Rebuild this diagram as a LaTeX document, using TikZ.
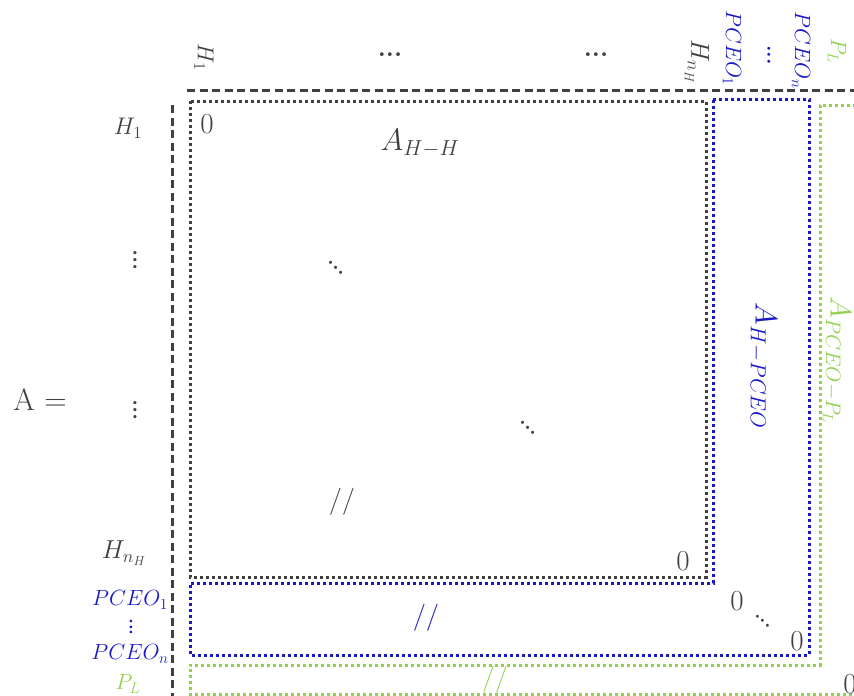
\documentclass[tikz,border=0pt]{standalone}
\usepackage{fix-cm}
\usepackage{amsmath}
\definecolor{gr}{RGB}{64,64,64}
\definecolor{bl}{RGB}{25,25,200}
\definecolor{gn}{RGB}{146,208,80}
\newcommand{\fs}[1]{\fontsize{#1}{#1}\selectfont}
\newcommand{\mydots}{\textbf{...}}
\begin{document}
\begin{tikzpicture}[x=1pt,y=-1pt,
  dashline/.style={gr,line width=3pt,dash pattern=on 8pt off 4.5pt},
  dotline/.style={line width=3pt,dash pattern=on 3pt off 3pt},
  lbl/.style={inner sep=0pt,text=gr,font=\fs{24}},
  dts/.style={inner sep=0pt,text=gr,font=\fs{26}},
  vdts/.style={dts,rotate=-90},
  ddts/.style={dts,rotate=-45},
  big/.style={inner sep=0pt,text=gr,font=\fs{29}},
  col/.style={inner sep=0pt,text=gr,font=\fs{23},rotate=-90}]
\useasboundingbox (0,0) rectangle (854,696);
% block outlines
\draw[dashline] (187,90) -- (854,90);
\draw[dashline] (172,105) -- (172,696);
\draw[dotline,gr] (190,101) rectangle (706,577);
\draw[dotline,bl] (713,99) -- (809,99) -- (809,655) -- (190,655) -- (190,583) -- (713,583) -- cycle;
\draw[dotline,gn] (856,105) -- (820,105) -- (820,665) -- (190,665) -- (190,694) -- (856,694);
% column labels
\node[col] (c1) at (204,57) {$H_1$};
\node[dts] (cd1) at (390,55) {\mydots};
\node[dts] (cd2) at (596,55) {\mydots};
\node[col,font=\fs{26}] (cnh) at (697,62) {$H_{n_H}$};
\node[col,text=bl,font=\fs{22}] (cp1) at (732,48) {$PCEO_1$};
\node[vdts,text=bl,font=\fs{21}] (cpd) at (769,55) {\mydots};
\node[col,text=bl,font=\fs{22}] (cpn) at (801,50) {$PCEO_n$};
\node[col,text=gn,font=\fs{22}] (cpl) at (837,51) {$P_L$};
% row labels
\node[lbl] (r1) at (128,128) {$H_1$};
\node[vdts,font=\fs{23}] (rd1) at (135,260) {\mydots};
\node[vdts,font=\fs{23}] (rd2) at (135,410) {\mydots};
\node[lbl,font=\fs{26}] (rnh) at (124,553) {$H_{n_H}$};
\node[lbl,text=bl,font=\fs{22}] (rp1) at (130,600) {$PCEO_1$};
\node[vdts,text=bl,font=\fs{19}] (rpd) at (131,627) {\mydots};
\node[lbl,text=bl,font=\fs{22}] (rpn) at (130,654) {$PCEO_n$};
\node[lbl,text=gn,font=\fs{22}] (rpl) at (128,684) {$P_L$};
% matrix name
\node[inner sep=0pt,text=gr,font=\fs{31}] (A) at (40,400) {A $=$};
% H-H block
\node[big] (z1) at (207,124) {0};
\node[inner sep=0pt,text=gr,font=\fs{31}] (AHH) at (420,143) {$A_{H-H}$};
\node[ddts,font=\fs{22}] (dd1) at (336,268) {\mydots};
\node[ddts,font=\fs{22}] (dd2) at (528,428) {\mydots};
\node[lbl,font=\fs{27}] (sl1) at (342,502) {$//$};
\node[big] (z2) at (683,561) {0};
% H-PCEO block
\node[inner sep=0pt,text=bl,font=\fs{31},rotate=-90] (AHP) at (763,366) {$A_{H-PCEO}$};
\node[lbl,text=bl,font=\fs{27}] (sl2) at (426,618) {$//$};
\node[big] (z3) at (737,601) {0};
\node[ddts,font=\fs{21}] (dd3) at (763,621) {\mydots};
\node[big] (z4) at (797,641) {0};
% PCEO-P_L block
\node[inner sep=0pt,text=gn,font=\fs{30},rotate=-90] (APP) at (837,360) {$A_{PCEO-P_L}$};
\node[lbl,text=gn,font=\fs{27}] (sl3) at (495,680) {$//$};
\node[big] (z5) at (850,684) {0};
\end{tikzpicture}
\end{document}
